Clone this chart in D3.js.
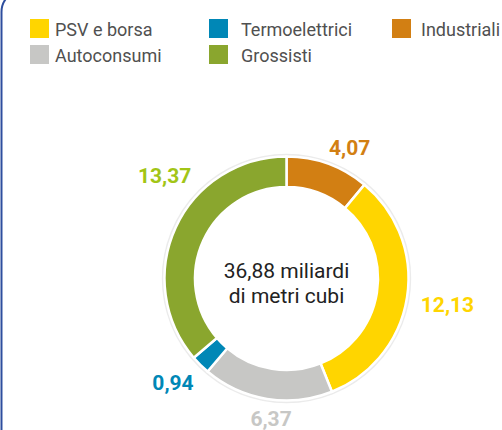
<!DOCTYPE html>
<html><head><meta charset="utf-8">
<script src="https://cdn.jsdelivr.net/npm/d3@7"></script>
<style>html,body{margin:0;padding:0;background:#fff;}svg{display:block;font-family:Roboto,"Noto Sans",sans-serif;}</style>
</head><body>
<svg id="c" width="502" height="430"></svg>
<script>
const categories = ["Industriali", "PSV e borsa", "Autoconsumi", "Termoelettrici", "Grossisti"];
const values = [4.07, 12.13, 6.37, 0.94, 13.37];
const colors = ["#D27F13", "#FFD500", "#C7C7C5", "#0087B6", "#8AA62E"];
const labelColors = ["#D27F13", "#FFD500", "#C7C7C5", "#0087B6", "#A2C516"];
const legendOrder = ["PSV e borsa", "Termoelettrici", "Industriali", "Autoconsumi", "Grossisti"];
const centerLines = ["36,88 miliardi", "di metri cubi"];

const svg = d3.select("#c");
// frame
svg.append("rect").attr("x", 1.5).attr("y", -10).attr("width", 560).attr("height", 480)
  .attr("rx", 22).attr("fill", "none").attr("stroke", "#2E4E9E").attr("stroke-width", 2);

// legend
const legX = [30, 209, 392], legY = [19, 45];
const colorOf = c => colors[categories.indexOf(c)];
legendOrder.forEach((c, i) => {
  const col = i % 3, row = Math.floor(i / 3);
  const g = svg.append("g").attr("transform", `translate(${legX[col]},${legY[row]})`);
  g.append("rect").attr("width", 19).attr("height", 19).attr("fill", colorOf(c));
  g.append("text").attr("x", col === 0 ? 25 : (col === 1 ? 32 : 29)).attr("y", 17)
    .attr("font-size", 18).attr("fill", "#505050").text(c);
});

const cx = 286.5, cy = 278.5, rOut = 122, rIn = 91.5;
const g = svg.append("g").attr("transform", `translate(${cx},${cy})`);
const pie = d3.pie().sort(null).value(d => d)(values);
g.append("circle").attr("r", rOut + 1.2).attr("fill", "none").attr("stroke", "#EBEBEB").attr("stroke-width", 3);
const arc = d3.arc().innerRadius(rIn).outerRadius(rOut);
g.selectAll("path.s").data(pie).join("path").attr("class", "s")
  .attr("d", arc).attr("fill", (d, i) => colors[i])
  .attr("stroke", "#fff").attr("stroke-width", 2.5);

// labels
const fmt = v => d3.format(".2f")(v).replace(".", ",");
const labR = 140;
const nudge = [[-5, 8, "start"], [-4, 12, "start"], [7, 9, "middle"], [6, 12, "end"], [32, -37, "end"]];
pie.forEach((d, i) => {
  const a = (d.startAngle + d.endAngle) / 2;
  const x = Math.sin(a) * labR + nudge[i][0], y = -Math.cos(a) * labR + nudge[i][1];
  g.append("text").attr("x", x).attr("y", y).attr("text-anchor", nudge[i][2])
    .attr("font-size", 21).attr("font-weight", 700).attr("fill", labelColors[i]).text(fmt(d.data));
});

centerLines.forEach((t, i) => {
  g.append("text").attr("x", 0).attr("y", -0.5 + i * 25).attr("text-anchor", "middle")
    .attr("font-size", 21).attr("fill", "#222").text(t);
});
</script>
</body></html>
